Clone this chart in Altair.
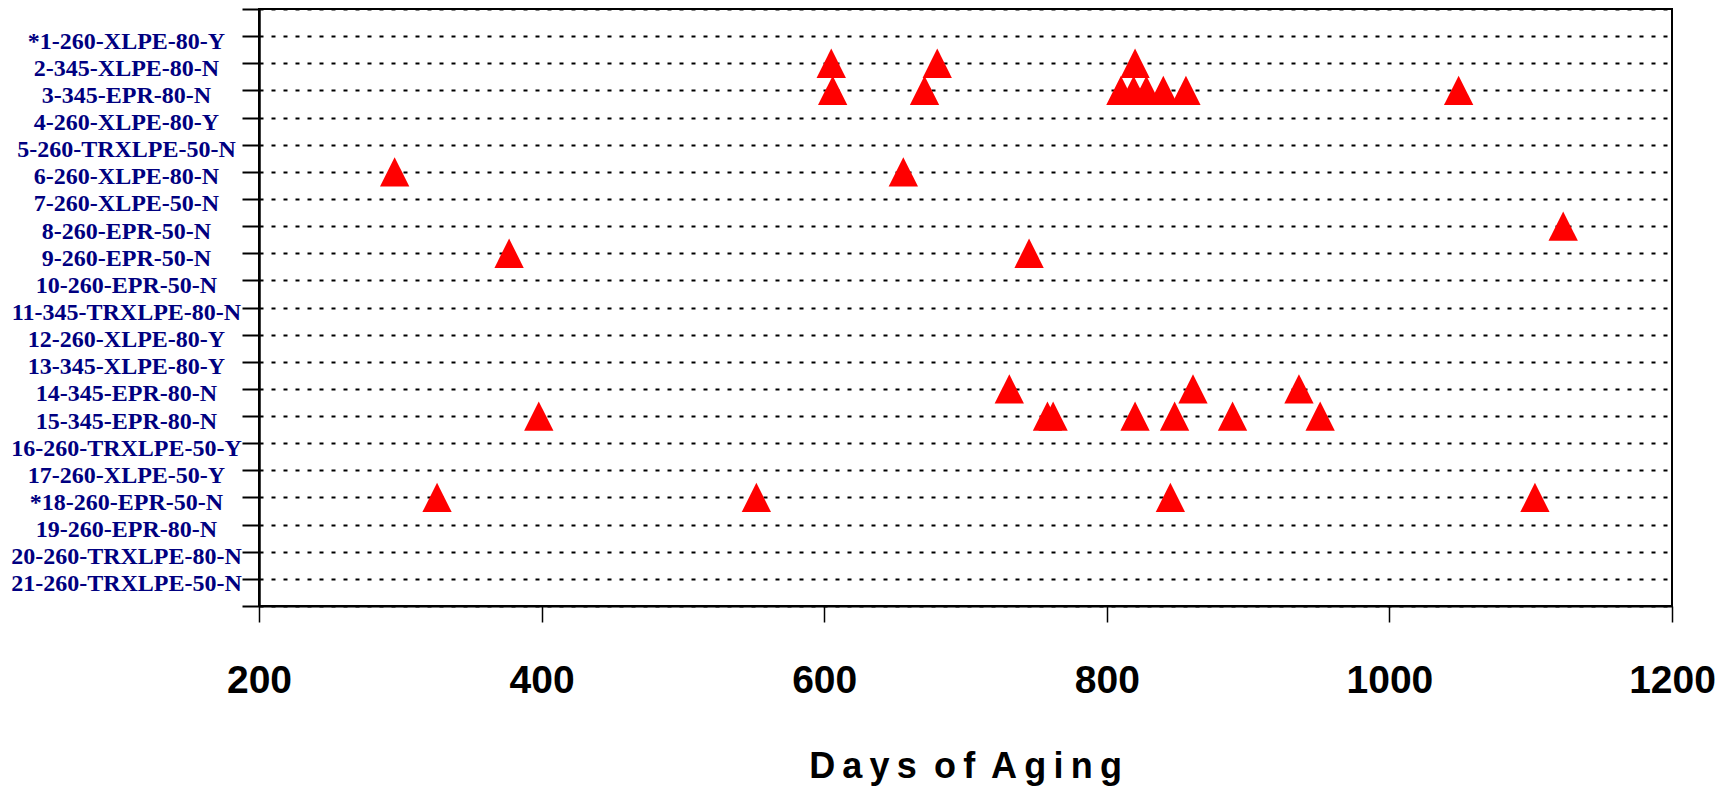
import json
import altair as alt
import pandas as pd

# Cable labels, one per row (row 1 at top)
cables = [
    "*1-260-XLPE-80-Y", "2-345-XLPE-80-N", "3-345-EPR-80-N", "4-260-XLPE-80-Y",
    "5-260-TRXLPE-50-N", "6-260-XLPE-80-N", "7-260-XLPE-50-N", "8-260-EPR-50-N",
    "9-260-EPR-50-N", "10-260-EPR-50-N", "11-345-TRXLPE-80-N", "12-260-XLPE-80-Y",
    "13-345-XLPE-80-Y", "14-345-EPR-80-N", "15-345-EPR-80-N", "16-260-TRXLPE-50-Y",
    "17-260-XLPE-50-Y", "*18-260-EPR-50-N", "19-260-EPR-80-N", "20-260-TRXLPE-80-N",
    "21-260-TRXLPE-50-N",
]

# Failure events: cable row number and days of aging
failure_row = [2, 2, 2,
               3, 3, 3, 3, 3, 3, 3, 3,
               6, 6,
               8,
               9, 9,
               14, 14, 14,
               15, 15, 15, 15, 15, 15, 15,
               18, 18, 18, 18]
failure_days = [605, 680, 820,
                606, 671, 810, 819, 828, 840, 856, 1049,
                296, 656,
                1123,
                377, 745,
                731, 861, 936,
                398, 758, 762, 820, 848, 889, 951,
                326, 552, 845, 1103]

x_ticks = [200, 400, 600, 800, 1000, 1200]

df = pd.DataFrame({"row": failure_row, "days": failure_days})

label_list = [""] + cables + [""]
label_expr = json.dumps(label_list) + "[datum.value]"

SANS = "'Liberation Sans Narrow', 'Arial Narrow', 'Liberation Sans', Arial, sans-serif"
SERIF = "'Liberation Serif', 'Times New Roman', serif"

title_text = "\u2009 ".join("\u2009".join(w) for w in "Days of Aging".split(" "))

chart = alt.Chart(df).mark_point(
    filled=True,
    shape="M0,-1L1,1L-1,1Z",
    size=860,
    color="#FF0000",
    opacity=1,
    strokeWidth=0,
).encode(
    x=alt.X(
        "days:Q",
        scale=alt.Scale(domain=[200, 1200], nice=False, zero=False),
        axis=alt.Axis(
            values=x_ticks,
            format="d",
            grid=False,
            title=title_text,
            titleFont=SANS,
            titleFontSize=36,
            titleFontWeight="bold",
            titleColor="black",
            titleBaseline="alphabetic",
            titleAlign="center",
            titleX=706,
            titleY=171,
            labelFont=SANS,
            labelFontSize=39,
            labelFontWeight="bold",
            labelColor="black",
            labelBaseline="alphabetic",
            labelPadding=70,
            labelFlush=False,
            labelOverlap=False,
            tickSize=16,
            tickWidth=1.5,
            tickColor="black",
            domainColor="black",
            domainWidth=2,
        ),
    ),
    y=alt.Y(
        "row:Q",
        scale=alt.Scale(domain=[0, 22], reverse=True, nice=False, zero=False),
        axis=alt.Axis(
            values=list(range(23)),
            labelExpr=label_expr,
            title="",
            labelFont=SERIF,
            labelFontSize=24,
            labelFontWeight="bold",
            labelColor="#000080",
            labelAlign="center",
            labelBaseline="middle",
            labelPadding=116,
            labelOffset=5,
            labelLimit=400,
            labelOverlap=False,
            labelFlush=False,
            tickSize=17,
            tickWidth=2,
            tickColor="black",
            domainColor="black",
            domainWidth=2.5,
            grid=True,
            gridColor="black",
            gridDash=[4, 8],
            gridWidth=2,
            gridOpacity=1,
        ),
    ),
).properties(
    width=1413,
    height=597,
    padding={"left": 251, "top": 1, "right": 50, "bottom": 180},
    autosize=alt.AutoSizeParams(type="none"),
).configure_view(
    stroke="black",
    strokeWidth=2,
)

chart.save("out.html", embed_options={"renderer": "svg", "actions": False})
